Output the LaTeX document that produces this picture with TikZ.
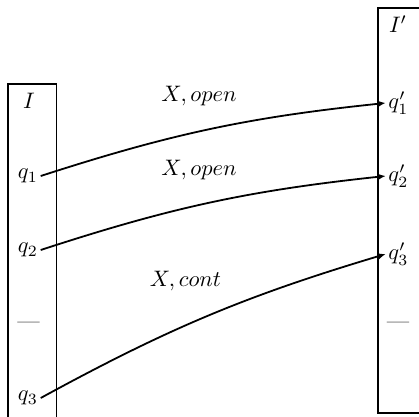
\documentclass[tikz,border=0pt]{standalone}
\usetikzlibrary{arrows.meta}
\tikzset{
  box/.style={draw, line width=0.8pt},
  lbl/.style={inner sep=1pt},
  trans/.style={line width=0.8pt, -{Latex[length=3.6pt,width=3pt]}, bend left=6},
}
\begin{document}
\begin{tikzpicture}[x=0.4464pt, y=-0.4464pt]
\clip (0,0) rectangle (419,417);
% boxes
\draw[box] (8,440) -- (8,84) -- (56.5,84) -- (56.5,440);
\draw[box] (430,413) -- (378,413) -- (378,8) -- (430,8);
% titles
\node[lbl] (I) at (29,101) {$I$};
\node[lbl] (Ip) at (398,24) {$I'$};
% left states
\node[lbl] (q1) at (28,176) {$q_1$};
\node[lbl] (q2) at (28,250) {$q_2$};
\node[lbl] (d1) at (28.5,325) {---};
\node[lbl] (q3) at (28,398) {$q_3$};
% right states
\node[lbl] (p1) at (398.5,103) {$q'_1$};
\node[lbl] (p2) at (398.5,176) {$q'_2$};
\node[lbl] (p3) at (398.5,254) {$q'_3$};
\node[lbl] (d2) at (398,325) {---};
% labels
\node[lbl] (l1) at (199,96) {$X, open$};
\node[lbl] (l2) at (199,170) {$X, open$};
\node[lbl] (l3) at (185.5,281) {$X, cont$};
% transitions
\draw[trans] (q1.east) to (p1.west);
\draw[trans] (q2.east) to (p2.west);
\draw[trans] (q3.east) to (p3.west);
\end{tikzpicture}
\end{document}
